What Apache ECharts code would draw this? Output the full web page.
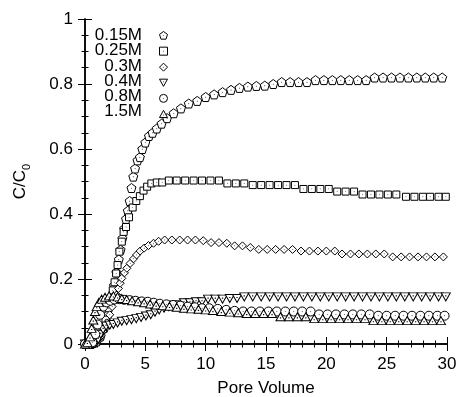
<!DOCTYPE html>
<html>
<head>
<meta charset="utf-8">
<script src="https://cdn.jsdelivr.net/npm/echarts@6/dist/echarts.min.js"></script>
<style>
html,body{margin:0;padding:0;background:#fff;}
#chart{width:458px;height:397px;}
</style>
</head>
<body>
<div id="chart"></div>
<script>
// ---- data ----
const seriesNames = ['0.15M', '0.25M', '0.3M', '0.4M', '0.8M', '1.5M'];

const x015 = [0,0.25,0.5,0.75,1.0,1.3,1.6,1.9,2.15,2.4,2.6,2.8,2.95,3.1,3.25,3.4,3.55,3.7,3.85,4.0,4.15,4.35,4.55,4.75,5.0,5.3,5.6,5.95,6.35,6.8,7.35,7.95,8.6,9.3,10.0,10.7,11.4,12.1,12.8,13.5,14.2,14.9,15.6,16.3,17.0,17.7,18.4,19.1,19.8,20.5,21.2,21.9,22.6,23.3,24.0,24.7,25.4,26.1,26.8,27.5,28.2,28.9,29.6];
const y015 = [0,0,0,0.005,0.01,0.025,0.05,0.09,0.13,0.18,0.22,0.26,0.29,0.325,0.355,0.385,0.41,0.44,0.48,0.515,0.54,0.565,0.575,0.6,0.62,0.64,0.65,0.663,0.678,0.695,0.71,0.725,0.74,0.748,0.76,0.768,0.775,0.782,0.788,0.792,0.794,0.795,0.8,0.806,0.806,0.806,0.806,0.812,0.812,0.812,0.812,0.812,0.812,0.812,0.82,0.82,0.82,0.82,0.82,0.82,0.82,0.82,0.82];

const x025 = [0,0.3,0.6,0.9,1.2,1.45,1.7,1.95,2.15,2.3,2.45,2.58,2.7,2.85,3.05,3.2,3.4,3.65,3.95,4.25,4.55,4.85,5.15,5.5,5.95,6.4,6.95,7.6,8.3,9.0,9.7,10.4,11.1,11.8,12.5,13.2,13.9,14.6,15.3,16.0,16.7,17.4,18.1,18.8,19.5,20.2,20.9,21.6,22.3,23.0,23.7,24.4,25.1,25.8,26.6,27.3,28.0,28.6,29.3,29.9];
const y025 = [0,0,0,0.005,0.02,0.045,0.075,0.11,0.14,0.165,0.19,0.217,0.243,0.284,0.315,0.345,0.36,0.39,0.42,0.44,0.455,0.472,0.484,0.494,0.497,0.497,0.503,0.503,0.503,0.503,0.503,0.503,0.503,0.494,0.494,0.494,0.489,0.489,0.489,0.489,0.489,0.489,0.477,0.477,0.477,0.477,0.469,0.469,0.469,0.46,0.46,0.46,0.46,0.46,0.453,0.453,0.453,0.453,0.453,0.453];

const x03 = [0,0.3,0.6,0.9,1.2,1.5,1.8,2.05,2.25,2.45,2.63,2.77,2.91,3.05,3.27,3.47,3.74,4.02,4.27,4.57,4.9,5.26,5.68,6.1,6.6,7.2,7.85,8.5,9.15,9.8,10.45,11.1,11.75,12.4,13.05,13.7,14.4,15.1,15.8,16.5,17.2,17.9,18.6,19.3,20.0,20.7,21.3,22.0,22.7,23.4,24.1,24.8,25.5,26.2,26.9,27.6,28.3,29.0,29.7];
const y03 = [0,0,0,0.005,0.02,0.04,0.065,0.09,0.115,0.135,0.151,0.171,0.187,0.202,0.219,0.233,0.248,0.262,0.274,0.286,0.295,0.303,0.31,0.316,0.32,0.32,0.32,0.32,0.32,0.318,0.312,0.312,0.31,0.302,0.302,0.297,0.291,0.291,0.291,0.291,0.291,0.286,0.286,0.286,0.286,0.286,0.277,0.277,0.277,0.277,0.277,0.277,0.268,0.268,0.268,0.268,0.268,0.268,0.268];

const x04 = [0,0.3,0.6,0.9,1.1,1.3,1.5,1.75,2.05,2.35,2.7,3.05,3.45,3.85,4.25,4.65,5.05,5.45,5.8,6.15,6.55,6.95,7.35,7.75,8.2,8.7,9.2,9.7,10.2,10.8,11.4,12.0,12.6,13.2,13.9,14.6,15.3,16.0,16.7,17.4,18.1,18.8,19.5,20.2,20.9,21.6,22.3,23.0,23.7,24.4,25.1,25.8,26.5,27.2,27.9,28.6,29.3,29.9];
const y04 = [0,0,0,0.005,0.015,0.03,0.045,0.055,0.058,0.06,0.065,0.07,0.072,0.075,0.078,0.082,0.086,0.09,0.098,0.105,0.11,0.115,0.12,0.12,0.127,0.127,0.13,0.13,0.138,0.138,0.138,0.14,0.14,0.145,0.145,0.145,0.145,0.145,0.145,0.145,0.145,0.145,0.145,0.145,0.145,0.145,0.145,0.145,0.145,0.145,0.145,0.145,0.145,0.145,0.145,0.145,0.145,0.145];

const x08 = [0,0.3,0.6,0.85,1.05,1.25,1.5,1.8,2.1,2.45,2.85,3.25,3.7,4.2,4.7,5.2,5.7,6.2,6.75,7.3,7.9,8.5,9.1,9.7,10.3,11.0,11.7,12.4,13.1,13.8,14.5,15.2,15.9,16.6,17.3,18.0,18.7,19.4,20.1,20.8,21.5,22.2,22.9,23.6,24.3,25.0,25.7,26.4,27.1,27.8,28.5,29.2,29.8];
const y08 = [0,0,0.005,0.03,0.06,0.09,0.115,0.128,0.133,0.137,0.138,0.136,0.135,0.133,0.131,0.13,0.127,0.124,0.122,0.12,0.118,0.115,0.113,0.11,0.11,0.108,0.105,0.102,0.1,0.1,0.1,0.1,0.1,0.1,0.1,0.1,0.1,0.091,0.091,0.091,0.091,0.091,0.091,0.091,0.087,0.087,0.087,0.087,0.087,0.087,0.087,0.087,0.087];

const x15 = [0,0.2,0.42,0.55,0.69,0.83,0.97,1.15,1.38,1.66,2.0,2.35,2.7,3.05,3.45,3.9,4.4,4.9,5.4,5.9,6.45,7.0,7.6,8.2,8.8,9.4,10.0,10.6,11.3,12.0,12.7,13.4,14.1,14.8,15.5,16.2,16.9,17.6,18.3,19.0,19.7,20.4,21.1,21.8,22.5,23.2,23.9,24.6,25.3,26.0,26.7,27.4,28.1,28.8,29.5];
const y15 = [0,0.005,0.022,0.048,0.074,0.1,0.115,0.128,0.138,0.144,0.148,0.148,0.145,0.14,0.137,0.133,0.13,0.127,0.123,0.12,0.118,0.116,0.113,0.11,0.108,0.107,0.105,0.103,0.1,0.098,0.096,0.094,0.094,0.094,0.094,0.084,0.084,0.084,0.084,0.078,0.078,0.078,0.078,0.078,0.078,0.078,0.072,0.072,0.072,0.072,0.072,0.072,0.072,0.072,0.072];

const xTicks = ['0','5','10','15','20','25','30'];
const yTicks = ['0','0.2','0.4','0.6','0.8','1'];

// ---- symbols ----
const dot = ' M49 49 L51 49 L51 51 L49 51 Z';
const symbols = [
  'path://M50 2 L98 37 L80 94 L20 94 L2 37 Z' + dot,
  'path://M0 0 L100 0 L100 100 L0 100 Z' + dot,
  'path://M50 0 L100 50 L50 100 L0 50 Z' + dot,
  'path://M0 0 L100 0 L50 90 Z M49 33 L51 33 L51 35 L49 35 Z',
  'path://M0 50 A50 50 0 1 0 100 50 A50 50 0 1 0 0 50 Z' + dot,
  'path://M50 0 L100 90 L0 90 Z M49 57 L51 57 L51 59 L49 59 Z'
];
const sizes = [[9,9],[7,7],[8,8],[9,8],[9,9],[9,8]];

const xs = [x015, x025, x03, x04, x08, x15];
const ys = [y015, y025, y03, y04, y08, y15];

const font = 'Liberation Sans, Arial, sans-serif';
const series = seriesNames.map((n, i) => ({
  name: n,
  type: 'scatter',
  symbol: symbols[i],
  symbolSize: sizes[i],
  itemStyle: { color: '#fff', borderColor: '#000', borderWidth: 1, opacity: 1 },
  data: xs[i].map((x, k) => [x, ys[i][k]]),
  z: 2 + i
}));

const axisCommon = {
  type: 'value',
  axisLine: { show: true, lineStyle: { color: '#000', width: 1.5 } },
  axisTick: { show: true, inside: true, length: 7, lineStyle: { color: '#000', width: 1 } },
  minorTick: { show: true, length: 3.5, lineStyle: { color: '#000', width: 1 } },
  splitLine: { show: false },
  minorSplitLine: { show: false }
};

const chart = echarts.init(document.getElementById('chart'), null, { renderer: 'canvas' });
chart.setOption({
  animation: false,
  backgroundColor: '#fff',
  textStyle: { fontFamily: font },
  grid: { left: 85, right: 11, top: 19, bottom: 53, containLabel: false, outerBoundsMode: 'none' },
  legend: {
    orient: 'vertical',
    left: 159,
    top: 31,
    padding: 0,
    itemGap: 7,
    itemWidth: 8,
    itemHeight: 8,
    formatter: () => '',
    textStyle: { fontSize: 8, lineHeight: 8, padding: 0 },
    data: seriesNames.map((n, i) => ({ name: n, icon: symbols[i] })),
    itemStyle: { color: '#fff', borderColor: '#000', borderWidth: 1 },
    selectedMode: false
  },
  graphic: seriesNames.map((n, i) => ({
    type: 'text',
    right: 458 - 142,
    top: 27 + i * 15.2,
    style: { text: n, font: '17px ' + font, fill: '#000', textAlign: 'right' },
    silent: true
  })),
  xAxis: [
    Object.assign({}, axisCommon, {
      min: 0, max: 30, interval: 5, position: 'bottom',
      minorTick: Object.assign({}, axisCommon.minorTick, { splitNumber: 5 }),
      name: 'Pore Volume', nameLocation: 'middle', nameGap: 36,
      nameTextStyle: { fontSize: 17, color: '#000', fontFamily: font },
      axisLabel: { fontSize: 17, color: '#000', margin: 12, fontFamily: font,
        formatter: v => xTicks[Math.round(v / 5)] }
    }),
    Object.assign({}, axisCommon, {
      min: 0, max: 30, interval: 5, position: 'top',
      minorTick: Object.assign({}, axisCommon.minorTick, { splitNumber: 5 }),
      axisLabel: { show: false }
    })
  ],
  yAxis: [
    Object.assign({}, axisCommon, {
      min: 0, max: 1, interval: 0.2, position: 'left',
      minorTick: Object.assign({}, axisCommon.minorTick, { splitNumber: 4 }),
      name: 'C/C{sub|0}', nameLocation: 'middle', nameGap: 53, nameRotate: 90,
      nameTextStyle: { fontSize: 17, color: '#000', fontFamily: font, lineHeight: 24,
        rich: { sub: { fontSize: 11, lineHeight: 11, verticalAlign: 'bottom', fontFamily: font, color: '#000' } } },
      axisLabel: { fontSize: 17, color: '#000', margin: 12, fontFamily: font,
        formatter: v => yTicks[Math.round(v / 0.2)] }
    }),
    Object.assign({}, axisCommon, {
      min: 0, max: 1, interval: 0.2, position: 'right',
      minorTick: Object.assign({}, axisCommon.minorTick, { splitNumber: 4 }),
      axisLabel: { show: false }
    })
  ],
  series: series
});
</script>
</body>
</html>
